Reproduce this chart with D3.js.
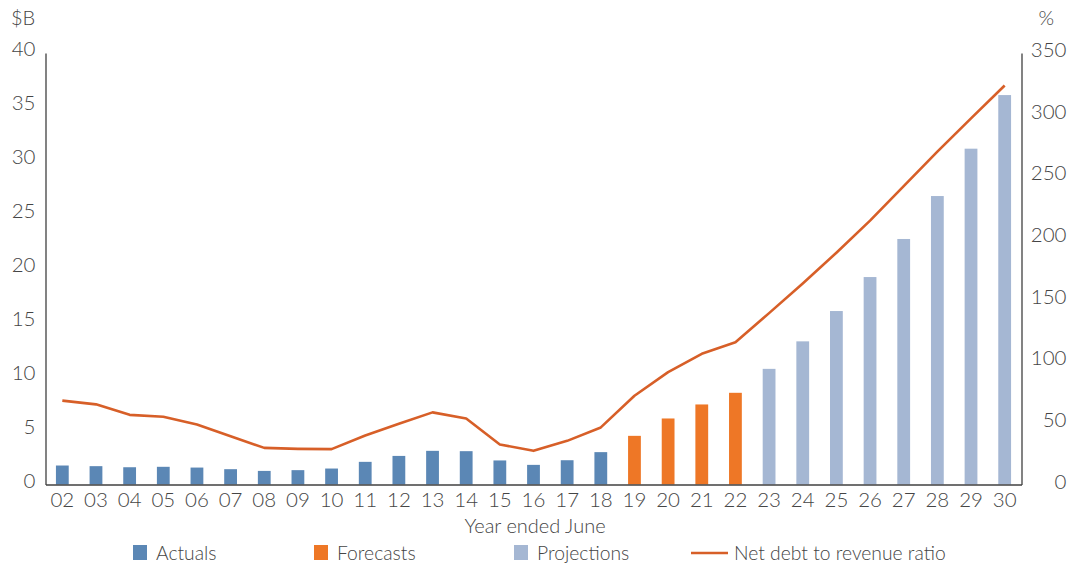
<!DOCTYPE html>
<html>
<head>
<meta charset="utf-8">
<script src="https://cdn.jsdelivr.net/npm/d3@7"></script>
<style>
  html, body { margin: 0; padding: 0; background: #fff; }
  svg { display: block; font-family: Lato, "Open Sans", sans-serif; }
  text { fill: #454545; font-weight: 300; }
</style>
</head>
<body>
<svg id="chart" width="1076" height="566"></svg>
<script>
const years = ["02","03","04","05","06","07","08","09","10","11","12","13","14","15","16","17","18","19","20","21","22","23","24","25","26","27","28","29","30"];
const actualYears = years.slice(0, 17);
const forecastYears = years.slice(17, 21);
const projectionYears = years.slice(21);
const actuals = [1.76,1.70,1.60,1.64,1.57,1.42,1.26,1.33,1.48,2.10,2.65,3.12,3.09,2.23,1.82,2.25,3.00];
const forecasts = [4.51,6.12,7.42,8.50];
const projections = [10.72,13.27,16.08,19.23,22.76,26.74,31.13,36.10];
const netDebtRatio = [68,65,56.5,55,48.7,39.2,29.7,28.9,28.7,39.8,49.2,58.5,53.6,32.5,27.3,35.4,46.3,72,91.2,106,115.3,139,163,188,214,242,270,297,323.6];
const leftTicks = [0,5,10,15,20,25,30,35,40];
const rightTicks = [0,50,100,150,200,250,300,350];
const seriesNames = ["Actuals","Forecasts","Projections","Net debt to revenue ratio"];
const colors = {Actuals:"#5b87b5", Forecasts:"#ee7726", Projections:"#a5b7d3", Line:"#d75f28"};

const svg = d3.select("#chart");
const m = {left: 45.5, right: 1021.5, top: 53, bottom: 484.5};

const x = d3.scaleBand().domain(years).range([m.left, m.right]).paddingInner(0.62).paddingOuter(0.31);
const yL = d3.scaleLinear().domain([0, 40]).range([m.bottom, m.top]);
const yR = d3.scaleLinear().domain([0, 350]).range([m.bottom, m.top]);

function drawBars(yrs, vals, color) {
  svg.append("g").selectAll("rect").data(vals).join("rect")
    .attr("x", (d, i) => x(yrs[i]))
    .attr("width", x.bandwidth())
    .attr("y", d => yL(d))
    .attr("height", d => yL(0) - yL(d))
    .attr("fill", color);
}
drawBars(actualYears, actuals, colors.Actuals);
drawBars(forecastYears, forecasts, colors.Forecasts);
drawBars(projectionYears, projections, colors.Projections);

const line = d3.line().x((d, i) => x(years[i]) + x.bandwidth() / 2).y(d => yR(d));
svg.append("path").datum(netDebtRatio)
  .attr("d", line).attr("fill", "none").attr("stroke", colors.Line)
  .attr("stroke-width", 2.6).attr("stroke-linejoin", "round");

// Axes
const axL = svg.append("g").attr("transform", `translate(${m.left},0)`)
  .call(d3.axisLeft(yL).tickValues(leftTicks).tickSize(0).tickPadding(10));
const axR = svg.append("g").attr("transform", `translate(${m.right},0)`)
  .call(d3.axisRight(yR).tickValues(rightTicks).tickSize(0).tickPadding(10));
axR.selectAll("text").attr("text-anchor", "end").attr("dx", "35");
const axB = svg.append("g").attr("transform", `translate(0,${m.bottom})`)
  .call(d3.axisBottom(x).tickSize(0).tickPadding(8));

[axL, axR, axB].forEach(a => {
  a.select(".domain").attr("stroke", "#404040").attr("stroke-width", 1.3);
  a.selectAll("text").style("font-size", "20.5px").style("font-family", "Lato, sans-serif").attr("fill", "#454545");
});
axL.selectAll("text").attr("dx", "0").attr("y", -4);
axR.selectAll("text").attr("y", -3);

svg.append("text").attr("x", 11).attr("y", 25).style("font-size", "20px").text("$B");
svg.append("text").attr("x", 1054).attr("y", 25).attr("text-anchor", "end").style("font-size", "20px").text("%");
svg.append("text").attr("x", 535).attr("y", 533).attr("text-anchor", "middle").style("font-size", "20px").text("Year ended June");

// Legend
const legendX = [133, 314, 514, 691];
const legend = svg.append("g");
seriesNames.forEach((name, i) => {
  const lx = legendX[i];
  if (i < 3) {
    legend.append("rect").attr("x", lx).attr("y", 545).attr("width", 14).attr("height", 15)
      .attr("fill", [colors.Actuals, colors.Forecasts, colors.Projections][i]);
    legend.append("text").attr("x", lx + 23).attr("y", 560).style("font-size", "19.3px").text(name);
  } else {
    legend.append("line").attr("x1", lx).attr("x2", lx + 37).attr("y1", 553).attr("y2", 553)
      .attr("stroke", colors.Line).attr("stroke-width", 2.6);
    legend.append("text").attr("x", lx + 43).attr("y", 560).style("font-size", "19.3px").text(name);
  }
});
</script>
</body>
</html>
